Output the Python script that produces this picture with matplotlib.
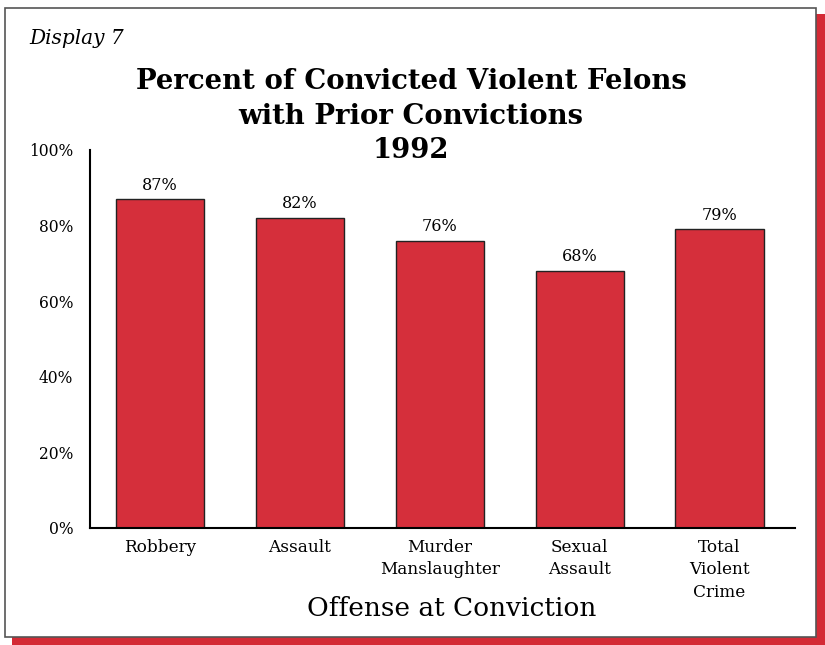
import numpy as np
import matplotlib.pyplot as plt
from matplotlib.patches import Rectangle

offenses = ["Robbery", "Assault", "Murder\nManslaughter", "Sexual\nAssault", "Total\nViolent\nCrime"]
pct_prior = [87, 82, 76, 68, 79]
y_ticks = [0, 20, 40, 60, 80, 100]

bar_red = "#d52f3b"
plt.rcParams['font.family'] = ['DejaVu Serif']

fig = plt.figure(figsize=(8.25, 6.45), dpi=100)
W, H = 825.0, 645.0

# red backing card and white panel with thin frame
fig.patches.append(Rectangle((12 / W, 0), 1 - 12 / W, 1 - 14 / H,
                             transform=fig.transFigure, facecolor="#d42a35",
                             edgecolor="none", zorder=-2))
fig.patches.append(Rectangle((5 / W, (H - 637) / H), 811 / W, 629 / H,
                             transform=fig.transFigure, facecolor="white",
                             edgecolor="#555555", linewidth=1.2, zorder=-1))

ax = fig.add_axes([90 / W, (H - 528) / H, 705 / W, 378 / H])
ax.set_facecolor("none")
x = np.arange(len(offenses))
bars = ax.bar(x, pct_prior, width=0.63, color=bar_red, edgecolor="#222222", linewidth=1.0)

for b, v in zip(bars, pct_prior):
    ax.annotate(f"{v}%", (b.get_x() + b.get_width() / 2, v), xytext=(0, 4),
                textcoords="offset points", ha="center", va="bottom", fontsize=11.5)

ax.set_xlim(-0.5, 4.54)
ax.set_ylim(0, 100)
ax.set_yticks(y_ticks)
ax.set_yticklabels([f"{t}%" for t in y_ticks], fontsize=11.2)
ax.set_xticks(x)
ax.set_xticklabels(offenses, fontsize=12.2, linespacing=1.4, va="top")
ax.tick_params(axis="both", length=0)
ax.tick_params(axis="x", pad=8)
ax.tick_params(axis="y", pad=12)
for s in ["top", "right"]:
    ax.spines[s].set_visible(False)
ax.spines["left"].set_linewidth(1.5)
ax.spines["bottom"].set_linewidth(1.5)

fig.text(452 / W, 1 - 608 / H, "Offense at Conviction", ha="center", va="center", fontsize=19)
fig.text(411 / W, 1 - 116 / H, "Percent of Convicted Violent Felons\nwith Prior Convictions\n1992",
         ha="center", va="center", fontsize=19.8, fontweight="bold", linespacing=1.38)
fig.text(29 / W, 1 - 38 / H, "Display 7", ha="left", va="center", fontsize=14.5, style="italic")

fig.savefig("out.png", dpi=100)
